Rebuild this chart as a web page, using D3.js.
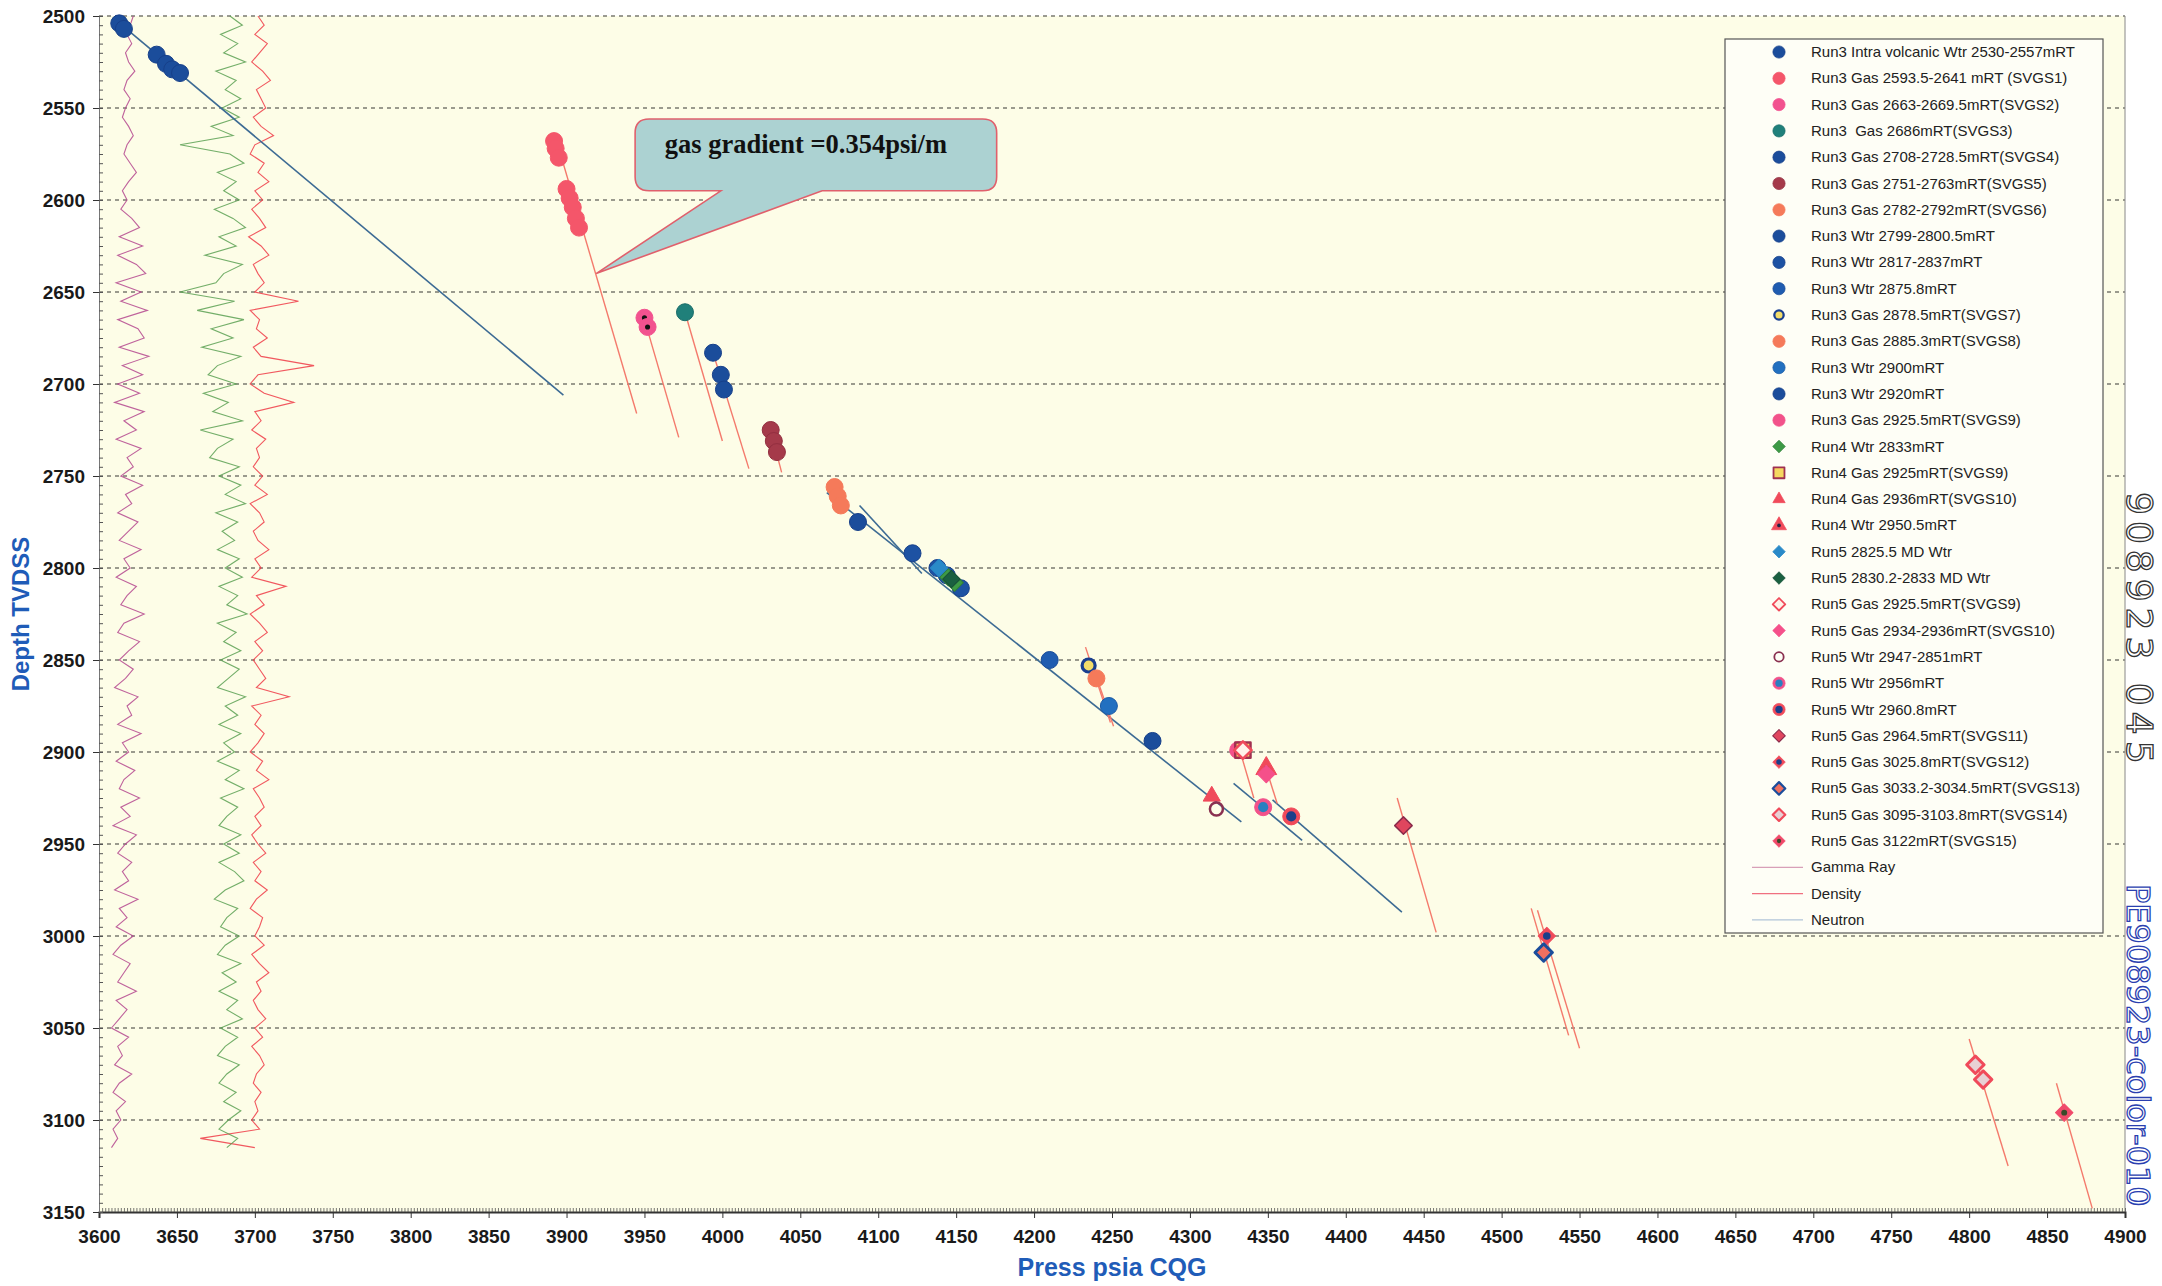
<!DOCTYPE html>
<html>
<head>
<meta charset="utf-8">
<script src="https://cdn.jsdelivr.net/npm/d3@7/dist/d3.min.js"></script>
<style>
  body { margin: 0; background: #ffffff; }
  svg { display: block; }
</style>
</head>
<body>
<div id="chart"><svg></svg></div>
<script>
// ---- axis ticks ----
const pressTicks = [3600, 3650, 3700, 3750, 3800, 3850, 3900, 3950, 4000, 4050, 4100, 4150, 4200,
  4250, 4300, 4350, 4400, 4450, 4500, 4550, 4600, 4650, 4700, 4750, 4800, 4850, 4900]
const depthTicks = [2500, 2550, 2600, 2650, 2700, 2750, 2800, 2850, 2900, 2950, 3000, 3050, 3100, 3150]

// ---- pressure points [press psia, depth TVDSS] ----
const run3IntraVolcanicWtr = [[3613, 2504], [3616, 2507], [3637, 2521], [3643, 2526], [3647, 2529], [3652, 2531]]
const run3Svgs1 = [[3892, 2568], [3893, 2572], [3895, 2577], [3900, 2594], [3902, 2599], [3904, 2604], [3906, 2610], [3908, 2615]]
const run3Svgs2 = [[3950, 2664], [3952, 2669]]
const run3Svgs3 = [[3976, 2661]]
const run3Svgs4 = [[3994, 2683], [3999, 2695], [4001, 2703]]
const run3Svgs5 = [[4031, 2725], [4033, 2731], [4035, 2737]]
const run3Svgs6 = [[4072, 2756], [4074, 2761], [4076, 2766]]
const run3Wtr2799 = [[4087, 2775]]
const run3Wtr2817 = [[4122, 2792], [4138, 2800], [4144, 2804], [4153, 2811]]
const run3Wtr2875 = [[4210, 2850]]
const run3Svgs7 = [[4235, 2853]]
const run3Svgs8 = [[4240, 2860]]
const run3Wtr2900 = [[4248, 2875]]
const run3Wtr2920 = [[4276, 2894]]
const run3Svgs9 = [[4331, 2899]]
const run4Wtr2833 = [[4145, 2805], [4149, 2808]]
const run4Svgs9 = [[4334, 2899]]
const run4Svgs10 = [[4314, 2924]]
const run4Wtr2950 = [[4349, 2909]]
const run5Wtr2825 = [[4139, 2800]]
const run5Wtr2830 = [[4147, 2806]]
const run5Svgs9 = [[4334, 2899]]
const run5Svgs10 = [[4349, 2912]]
const run5Wtr2947 = [[4317, 2931]]
const run5Wtr2956 = [[4347, 2930]]
const run5Wtr2960 = [[4365, 2935]]
const run5Svgs11 = [[4437, 2940]]
const run5Svgs12 = [[4529, 3000]]
const run5Svgs13 = [[4527, 3009]]
const run5Svgs14 = [[4804, 3070], [4809, 3078]]
const run5Svgs15 = [[4861, 3096]]

// ---- fitted gradient lines ----
const waterLines = [
  [[3612, 2503], [3898, 2706]],
  [[4067, 2759], [4333, 2938]],
  [[4088, 2766], [4128, 2803]],
  [[4328, 2917], [4372, 2948]],
  [[4353, 2926], [4436, 2987]]
]
const gasLines = [
  [[3893, 2566], [3945, 2716]],
  [[3949, 2662], [3972, 2729]],
  [[3976, 2661], [4000, 2731]],
  [[3994, 2683], [4017, 2746]],
  [[4030, 2722], [4038, 2748]],
  [[4233, 2843], [4249, 2884]],
  [[4237, 2852], [4251, 2886]],
  [[4332, 2899], [4341, 2925]],
  [[4350, 2912], [4356, 2928]],
  [[4433, 2925], [4458, 2998]],
  [[4519, 2985], [4543, 3054]],
  [[4523, 2986], [4550, 3061]],
  [[4800, 3056], [4825, 3125]],
  [[4856, 3080], [4879, 3148]]
]

// ---- well logs, one value every 5 m from 2500 m (scaled into the press axis) ----
const logTop = 2500
const logStep = 5
const gammaRay = [
  3622, 3620, 3618, 3621, 3617, 3619, 3623, 3618, 3616, 3620,
  3617, 3615, 3619, 3622, 3618, 3616, 3620, 3624, 3619, 3615,
  3618, 3614, 3621, 3626, 3613, 3628, 3612, 3624, 3630, 3611,
  3627, 3614, 3631, 3612, 3625, 3629, 3613, 3632, 3615, 3628,
  3612, 3626, 3610, 3629, 3616, 3624, 3611, 3627, 3618, 3622,
  3614, 3628, 3617, 3621, 3612, 3625, 3619, 3613, 3627, 3616,
  3620, 3611, 3624, 3618, 3614, 3629, 3616, 3612, 3626, 3619,
  3613, 3622, 3617, 3610, 3625, 3618, 3621, 3612, 3627, 3615,
  3619, 3611, 3623, 3616, 3613, 3626, 3614, 3620, 3609, 3624,
  3617, 3612, 3621, 3615, 3619, 3610, 3625, 3613, 3618, 3611,
  3622, 3614, 3609, 3620, 3616, 3612, 3624, 3611, 3618, 3613,
  3608, 3619, 3612, 3615, 3610, 3621, 3613, 3609, 3617, 3611,
  3614, 3609, 3612, 3608
]
const density = [
  3702, 3706, 3700, 3708, 3703, 3698, 3705, 3710, 3701, 3704,
  3707, 3699, 3704, 3712, 3700, 3697, 3706, 3702, 3709, 3700,
  3705, 3698, 3703, 3707, 3696, 3704, 3709, 3699, 3702, 3706,
  3700, 3728, 3697, 3703, 3701, 3708, 3699, 3704, 3738, 3702,
  3697, 3706, 3725, 3700, 3704, 3698, 3707, 3701, 3703, 3699,
  3705, 3700, 3708, 3697, 3703, 3706, 3699, 3702, 3709, 3700,
  3704, 3698, 3720, 3701, 3706, 3697, 3703, 3708, 3700, 3705,
  3699, 3703, 3707, 3701, 3722, 3698, 3704, 3700, 3706, 3702,
  3697, 3705, 3701, 3709, 3699, 3703, 3706, 3700, 3704, 3698,
  3702, 3707, 3699, 3704, 3700, 3708, 3701, 3697, 3705, 3703,
  3700, 3706, 3698, 3703, 3709, 3701, 3704, 3699, 3702, 3707,
  3700, 3705, 3698, 3703, 3706, 3701, 3699, 3704, 3700, 3702,
  3698, 3703, 3665, 3700
]
const neutron = [
  3684, 3692, 3678, 3689, 3680, 3694, 3675, 3688, 3681, 3691,
  3679, 3690, 3672, 3686, 3652, 3684, 3693, 3676, 3688, 3680,
  3690, 3674, 3686, 3694, 3677, 3688, 3668, 3692, 3680, 3675,
  3652, 3687, 3663, 3693, 3672, 3686, 3666, 3691, 3676, 3670,
  3688, 3667, 3683, 3673, 3692, 3665, 3686, 3676, 3671, 3690,
  3677, 3691, 3681, 3694, 3675, 3689, 3679, 3687, 3676, 3690,
  3681, 3692, 3677, 3689, 3682, 3695, 3676, 3688, 3680, 3691,
  3678, 3690, 3683, 3676, 3694, 3681, 3689, 3677, 3691, 3680,
  3687, 3676, 3690, 3681, 3693, 3678, 3689, 3682, 3677, 3691,
  3680, 3690, 3677, 3687, 3693, 3681, 3674, 3689, 3682, 3678,
  3690, 3681, 3676, 3691, 3679, 3688, 3677, 3689, 3682, 3692,
  3678, 3689, 3681, 3676, 3690, 3682, 3677, 3688, 3680, 3691,
  3683, 3677, 3689, 3682
]

// ---- callout (data units) ----
const calloutText = 'gas gradient =0.354psi/m'
const calloutTip = [3919, 2640]
const calloutBox = [[3944, 2556], [4176, 2595]]
const calloutBase = [3999, 4064]

const BLUE = '#1b4d9b'
const series = [
  { name: 'Run3 Intra volcanic Wtr 2530-2557mRT', data: run3IntraVolcanicWtr, shape: 'circle', fill: BLUE, stroke: '#17408a' },
  { name: 'Run3 Gas 2593.5-2641 mRT (SVGS1)', data: run3Svgs1, shape: 'circle', fill: '#f4566a', stroke: '#f4566a' },
  { name: 'Run3 Gas 2663-2669.5mRT(SVGS2)', data: run3Svgs2, shape: 'circle', fill: '#f2528f', stroke: '#f2528f', dot: '#111', dotPlotOnly: true },
  { name: 'Run3  Gas 2686mRT(SVGS3)', data: run3Svgs3, shape: 'circle', fill: '#20807a', stroke: '#1c6e6a' },
  { name: 'Run3 Gas 2708-2728.5mRT(SVGS4)', data: run3Svgs4, shape: 'circle', fill: BLUE, stroke: '#17408a' },
  { name: 'Run3 Gas 2751-2763mRT(SVGS5)', data: run3Svgs5, shape: 'circle', fill: '#a53a4a', stroke: '#932f40' },
  { name: 'Run3 Gas 2782-2792mRT(SVGS6)', data: run3Svgs6, shape: 'circle', fill: '#f57a5a', stroke: '#f57a5a' },
  { name: 'Run3 Wtr 2799-2800.5mRT', data: run3Wtr2799, shape: 'circle', fill: BLUE, stroke: '#17408a' },
  { name: 'Run3 Wtr 2817-2837mRT', data: run3Wtr2817, shape: 'circle', fill: '#1d52a3', stroke: '#17408a' },
  { name: 'Run3 Wtr 2875.8mRT', data: run3Wtr2875, shape: 'circle', fill: '#1f5cb0', stroke: '#1a4c98' },
  { name: 'Run3 Gas 2878.5mRT(SVGS7)', data: run3Svgs7, shape: 'circle', fill: '#f3dd6a', stroke: '#1a3f8f', sw: 3.2, r: 6.5 },
  { name: 'Run3 Gas 2885.3mRT(SVGS8)', data: run3Svgs8, shape: 'circle', fill: '#f57a5a', stroke: '#f57a5a' },
  { name: 'Run3 Wtr 2900mRT', data: run3Wtr2900, shape: 'circle', fill: '#2270c0', stroke: '#1b5aa5' },
  { name: 'Run3 Wtr 2920mRT', data: run3Wtr2920, shape: 'circle', fill: BLUE, stroke: '#17408a' },
  { name: 'Run3 Gas 2925.5mRT(SVGS9)', data: run3Svgs9, shape: 'circle', fill: '#f2528a', stroke: '#f2528a' },
  { name: 'Run4 Wtr 2833mRT', data: run4Wtr2833, shape: 'diamond', fill: '#3d9a45', stroke: '#2f7f38' },
  { name: 'Run4 Gas 2925mRT(SVGS9)', data: run4Svgs9, shape: 'square', fill: '#f5d860', stroke: '#a03050', sw: 2.5 },
  { name: 'Run4 Gas 2936mRT(SVGS10)', data: run4Svgs10, shape: 'triangle', fill: '#f04a5a', stroke: '#f04a5a', r: 7 },
  { name: 'Run4 Wtr 2950.5mRT', data: run4Wtr2950, shape: 'triangle', fill: '#f04a5a', stroke: '#f04a5a', dot: '#222244' },
  { name: 'Run5 2825.5 MD Wtr', data: run5Wtr2825, shape: 'diamond', fill: '#2a8ac8', stroke: '#2a8ac8' },
  { name: 'Run5 2830.2-2833 MD Wtr', data: run5Wtr2830, shape: 'diamond', fill: '#1a6040', stroke: '#174f37' },
  { name: 'Run5 Gas 2925.5mRT(SVGS9)', data: run5Svgs9, shape: 'diamond', fill: '#fff2e8', stroke: '#f04a5a', sw: 2.5 },
  { name: 'Run5 Gas 2934-2936mRT(SVGS10)', data: run5Svgs10, shape: 'diamond', fill: '#f5508a', stroke: '#f5508a' },
  { name: 'Run5 Wtr 2947-2851mRT', data: run5Wtr2947, shape: 'circle', fill: 'none', stroke: '#8a3050', sw: 2.5, r: 6.5 },
  { name: 'Run5 Wtr 2956mRT', data: run5Wtr2956, shape: 'circle', fill: '#f2528a', stroke: '#f2528a', dot: '#2a7fc0', dotR: 0.6 },
  { name: 'Run5 Wtr 2960.8mRT', data: run5Wtr2960, shape: 'circle', fill: '#f04a5a', stroke: '#f04a5a', dot: '#1b3f8a', dotR: 0.6 },
  { name: 'Run5 Gas 2964.5mRT(SVGS11)', data: run5Svgs11, shape: 'diamond', fill: '#e0465e', stroke: '#8a2a4a', sw: 1.5 },
  { name: 'Run5 Gas 3025.8mRT(SVGS12)', data: run5Svgs12, shape: 'diamond', fill: '#f04a5a', stroke: '#f04a5a', dot: '#1b3f8a', dotR: 0.45 },
  { name: 'Run5 Gas 3033.2-3034.5mRT(SVGS13)', data: run5Svgs13, shape: 'diamond', fill: '#f07060', stroke: BLUE, sw: 3 },
  { name: 'Run5 Gas 3095-3103.8mRT(SVGS14)', data: run5Svgs14, shape: 'diamond', fill: '#e8d0d4', stroke: '#f04a5a', sw: 3 },
  { name: 'Run5 Gas 3122mRT(SVGS15)', data: run5Svgs15, shape: 'diamond', fill: '#f04a6a', stroke: '#f04a6a', dot: '#3a4a2a', dotR: 0.35 }
]
const logs = [
  { name: 'Gamma Ray', values: gammaRay, color: '#b4468e', legendColor: '#d8a0b8' },
  { name: 'Density', values: density, color: '#ee3b46', legendColor: '#f07080' },
  { name: 'Neutron', values: neutron, color: '#5aa052', legendColor: '#b0c4d8' }
]

const W = 2162
const H = 1286
const plot = { left: 99, right: 2125, top: 16, bottom: 1212 }

const x = d3.scaleLinear().domain([3600, 4900]).range([plot.left, plot.right])
const y = d3.scaleLinear().domain([2500, 3150]).range([plot.top, plot.bottom])

const svg = d3.select('#chart').select('svg')
  .attr('width', W)
  .attr('height', H)

/**
 * Draws a marker of the given style centred on (cx, cy).
 */
function drawMarker (g, s, cx, cy, scale) {
  const r = (s.r || 8.5) * scale
  const sw = (s.sw || 1) * scale
  if (s.shape === 'circle') {
    g.append('circle')
      .attr('cx', cx)
      .attr('cy', cy)
      .attr('r', r)
      .attr('fill', s.fill)
      .attr('stroke', s.stroke)
      .attr('stroke-width', sw)
  } else {
    const sizes = { diamond: 2.1 * r * r, square: 3.2 * r * r, triangle: 2.6 * r * r }
    const types = { diamond: d3.symbolSquare, square: d3.symbolSquare, triangle: d3.symbolTriangle }
    g.append('path')
      .attr('d', d3.symbol().type(types[s.shape]).size(sizes[s.shape])())
      .attr('transform', `translate(${cx},${cy})` + (s.shape === 'diamond' ? ' rotate(45)' : ''))
      .attr('fill', s.fill)
      .attr('stroke', s.stroke)
      .attr('stroke-width', sw)
      .attr('stroke-linejoin', 'round')
  }
  if (s.dot && !(s.dotPlotOnly && scale < 1)) {
    g.append('circle')
      .attr('cx', cx)
      .attr('cy', cy)
      .attr('r', r * (s.dotR || 0.3))
      .attr('fill', s.dot)
  }
}

/**
 * Plot background, grid and frame.
 */
function drawFrame () {
  svg.append('rect')
    .attr('x', plot.left)
    .attr('y', plot.top)
    .attr('width', plot.right - plot.left)
    .attr('height', plot.bottom - plot.top)
    .attr('fill', '#fdfde7')

  svg.append('g')
    .selectAll('line')
    .data(depthTicks.slice(0, -1))
    .join('line')
    .attr('x1', plot.left)
    .attr('x2', plot.right)
    .attr('y1', d => y(d))
    .attr('y2', d => y(d))
    .attr('stroke', '#7a7a70')
    .attr('stroke-width', 1.4)
    .attr('stroke-dasharray', '4,4')

  svg.append('line')
    .attr('x1', plot.right)
    .attr('x2', plot.right)
    .attr('y1', plot.top)
    .attr('y2', plot.bottom)
    .attr('stroke', '#888')
    .attr('stroke-width', 1)
}

/**
 * Axes with major labels and minor inner ticks.
 */
function drawAxes () {
  const font = '"Liberation Sans Narrow", "Arial Narrow", "Liberation Sans", sans-serif'

  const xAxis = svg.append('g')
    .attr('transform', `translate(0,${plot.bottom})`)
    .call(d3.axisBottom(x).tickValues(pressTicks).tickSize(6).tickPadding(12).tickFormat(d3.format('d')))
  xAxis.select('.domain').attr('stroke', '#333').attr('stroke-width', 2)
  xAxis.selectAll('.tick line').attr('stroke', '#333')
  xAxis.selectAll('text')
    .attr('font-family', font)
    .attr('font-weight', 'bold')
    .attr('font-size', 19)
    .attr('fill', '#1a1a1a')

  svg.append('g')
    .attr('transform', `translate(0,${plot.bottom})`)
    .call(d3.axisBottom(x).tickValues(d3.range(3600, 4901, 2)).tickSize(-4).tickFormat(''))
    .call(g => g.select('.domain').remove())
    .selectAll('line')
    .attr('stroke', '#555')
    .attr('stroke-width', 0.8)

  const yAxis = svg.append('g')
    .attr('transform', `translate(${plot.left},0)`)
    .call(d3.axisLeft(y).tickValues(depthTicks).tickSize(6).tickPadding(8).tickFormat(d3.format('d')))
  yAxis.select('.domain').attr('stroke', '#777').attr('stroke-width', 1)
  yAxis.selectAll('.tick line').attr('stroke', '#333')
  yAxis.selectAll('text')
    .attr('font-family', font)
    .attr('font-weight', 'bold')
    .attr('font-size', 19)
    .attr('fill', '#1a1a1a')

  svg.append('g')
    .attr('transform', `translate(${plot.left},0)`)
    .call(d3.axisLeft(y).tickValues(d3.range(2500, 3151, 5)).tickSize(-4).tickFormat(''))
    .call(g => g.select('.domain').remove())
    .selectAll('line')
    .attr('stroke', '#555')
    .attr('stroke-width', 1)

  svg.append('text')
    .attr('x', (plot.left + plot.right) / 2)
    .attr('y', 1276)
    .attr('text-anchor', 'middle')
    .attr('font-family', font)
    .attr('font-weight', 'bold')
    .attr('font-size', 25)
    .attr('fill', '#1f5cb8')
    .text('Press psia CQG')

  svg.append('text')
    .attr('transform', 'translate(29,614) rotate(-90)')
    .attr('text-anchor', 'middle')
    .attr('font-family', font)
    .attr('font-weight', 'bold')
    .attr('font-size', 24)
    .attr('fill', '#1f5cb8')
    .text('Depth TVDSS')
}

/**
 * Well log curves drawn on the left of the plot.
 */
function drawLogs () {
  const line = d3.line()
    .x(d => x(d))
    .y((d, i) => y(logTop + i * logStep))
  svg.append('g')
    .selectAll('path')
    .data(logs)
    .join('path')
    .attr('d', d => line(d.values))
    .attr('fill', 'none')
    .attr('stroke', d => d.color)
    .attr('stroke-width', 1.1)
    .attr('opacity', 0.85)
}

/**
 * Fitted gradient lines and the pressure points.
 */
function drawPoints () {
  const line = d3.line().x(d => x(d[0])).y(d => y(d[1]))
  svg.append('g')
    .selectAll('path')
    .data(waterLines)
    .join('path')
    .attr('d', line)
    .attr('stroke', '#3d6b94')
    .attr('stroke-width', 1.6)
    .attr('fill', 'none')

  svg.append('g')
    .selectAll('path')
    .data(gasLines)
    .join('path')
    .attr('d', line)
    .attr('stroke', '#f47a6c')
    .attr('stroke-width', 1.4)
    .attr('fill', 'none')

  const g = svg.append('g')
  series.forEach(s => {
    s.data.forEach(p => drawMarker(g, s, x(p[0]), y(p[1]), 1))
  })
}

/**
 * Legend box on the right.
 */
function drawLegend () {
  const lx = 1725
  const ly = 39
  const step = 26.3
  const g = svg.append('g')
  g.append('rect')
    .attr('x', lx)
    .attr('y', ly)
    .attr('width', 378)
    .attr('height', 894)
    .attr('fill', '#fefef6')
    .attr('stroke', '#555')
    .attr('stroke-width', 1.2)

  const items = series.map(s => ({ type: 'marker', s, name: s.name }))
    .concat(logs.map(l => ({ type: 'line', l, name: l.name })))

  items.forEach((it, i) => {
    const cy = 52 + i * step
    if (it.type === 'marker') {
      drawMarker(g, it.s, 1779, cy, 0.72)
    } else {
      g.append('line')
        .attr('x1', 1752)
        .attr('x2', 1803)
        .attr('y1', cy)
        .attr('y2', cy)
        .attr('stroke', it.l.legendColor)
        .attr('stroke-width', 1.2)
    }
    g.append('text')
      .attr('x', 1811)
      .attr('y', cy + 5)
      .attr('font-family', '"Liberation Sans", Arial, sans-serif')
      .attr('font-size', 15)
      .attr('fill', '#222')
      .attr('xml:space', 'preserve')
      .text(it.name)
  })
}

/**
 * Speech-bubble callout with the gas gradient.
 */
function drawCallout () {
  const x0 = x(calloutBox[0][0])
  const x1 = x(calloutBox[1][0])
  const y0 = y(calloutBox[0][1])
  const y1 = y(calloutBox[1][1])
  const r = 14
  const tx = x(calloutTip[0])
  const ty = y(calloutTip[1])
  const b0 = x(calloutBase[0])
  const b1 = x(calloutBase[1])
  const p = d3.path()
  p.moveTo(x0 + r, y0)
  p.lineTo(x1 - r, y0)
  p.quadraticCurveTo(x1, y0, x1, y0 + r)
  p.lineTo(x1, y1 - r)
  p.quadraticCurveTo(x1, y1, x1 - r, y1)
  p.lineTo(b1, y1)
  p.lineTo(tx, ty)
  p.lineTo(b0, y1)
  p.lineTo(x0 + r, y1)
  p.quadraticCurveTo(x0, y1, x0, y1 - r)
  p.lineTo(x0, y0 + r)
  p.quadraticCurveTo(x0, y0, x0 + r, y0)
  p.closePath()

  svg.append('path')
    .attr('d', p.toString())
    .attr('fill', '#acd2d2')
    .attr('stroke', '#e0606c')
    .attr('stroke-width', 1.6)

  svg.append('text')
    .attr('x', (x0 + x1) / 2 - 10)
    .attr('y', y0 + 34)
    .attr('text-anchor', 'middle')
    .attr('font-family', '"Liberation Serif", "Times New Roman", serif')
    .attr('font-weight', 'bold')
    .attr('font-size', 26.5)
    .attr('fill', '#111')
    .text(calloutText)
}

/**
 * Handwritten archive marks on the right margin.
 */
function drawMargin () {
  svg.append('text')
    .attr('transform', 'translate(2127,492) rotate(90)')
    .attr('font-family', '"DejaVu Sans", sans-serif')
    .attr('font-size', 36)
    .attr('fill', 'none')
    .attr('stroke', '#333')
    .attr('stroke-width', 1.3)
    .attr('letter-spacing', 6)
    .text('908923 045')

  svg.append('text')
    .attr('transform', 'translate(2127,884) rotate(90)')
    .attr('font-family', '"DejaVu Sans", sans-serif')
    .attr('font-size', 32)
    .attr('fill', 'none')
    .attr('stroke', '#2a3fb0')
    .attr('stroke-width', 1.3)
    .text('PE908923-color-010')
}

drawFrame()
drawLogs()
drawAxes()
drawPoints()
drawCallout()
drawLegend()
drawMargin()
</script>
</body>
</html>
